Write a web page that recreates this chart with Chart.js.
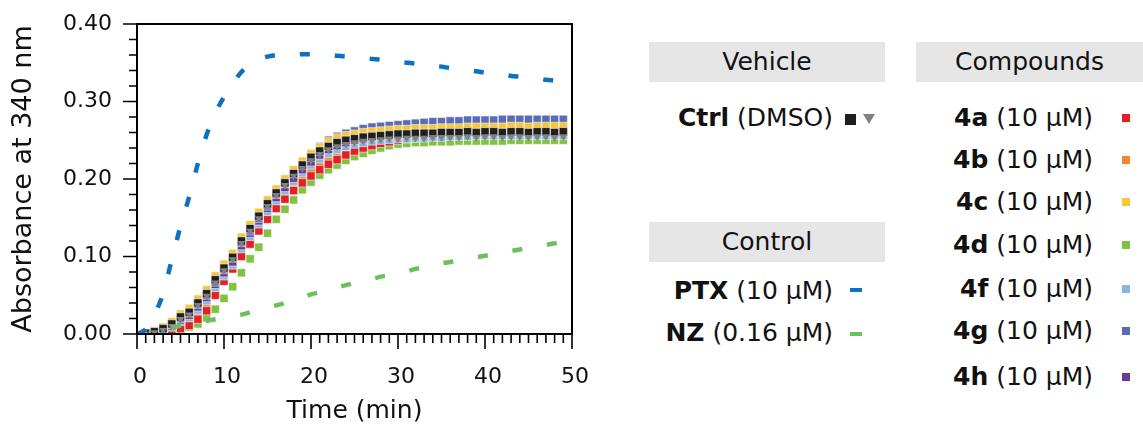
<!DOCTYPE html>
<html>
<head>
<meta charset="utf-8">
<script src="https://cdn.jsdelivr.net/npm/chart.js@4.4.1/dist/chart.umd.min.js"></script>
<style>
    body { margin: 0; background: #ffffff; width: 1143px; height: 432px; overflow: hidden; position: relative; font-family: "DejaVu Sans", sans-serif; color: #111; }
    #chartBox { position: absolute; left: 0; top: 0; width: 600px; height: 432px; }
    .head { position: absolute; top: 42px; height: 40px; line-height: 40px; background: #e6e6e6; text-align: center; font-size: 25px; }
    .row { position: absolute; font-size: 25px; line-height: 30px; white-space: nowrap; text-align: right; }
    .row b { font-weight: bold; }
    .mk { position: absolute; }
</style>
</head>
<body>
<div id="chartBox"><canvas id="turbidityChart"></canvas></div>
<div id="legend"></div>

<script>
const timePoints = [1, 2, 3, 4, 5, 6, 7, 8, 9, 10, 11, 12, 13, 14, 15, 16, 17, 18, 19, 20,
    21, 22, 23, 24, 25, 26, 27, 28, 29, 30, 31, 32, 33, 34, 35, 36, 37, 38, 39, 40,
    41, 42, 43, 44, 45, 46, 47, 48, 49];
const lineTimes = [0, 1, 2, 3, 4, 5, 6, 7, 8, 9, 10, 11, 12, 13, 14, 15, 16, 17, 18, 19, 20,
    21, 22, 23, 24, 25, 26, 27, 28, 29, 30, 31, 32, 33, 34, 35, 36, 37, 38, 39, 40,
    41, 42, 43, 44, 45, 46, 47, 48, 49, 50];

const ctrlSquare = [0.001, 0.003, 0.007, 0.013, 0.022, 0.028, 0.040, 0.052, 0.070, 0.085,
    0.099, 0.120, 0.136, 0.152, 0.168, 0.182, 0.195, 0.207, 0.218, 0.228,
    0.236, 0.242, 0.247, 0.250, 0.252, 0.254, 0.255, 0.256, 0.257, 0.258,
    0.258, 0.259, 0.259, 0.259, 0.260, 0.260, 0.260, 0.261, 0.260, 0.261,
    0.261, 0.260, 0.261, 0.261, 0.260, 0.261, 0.261, 0.260, 0.261];
const ctrlTriangle = [0.000, 0.002, 0.005, 0.010, 0.019, 0.025, 0.037, 0.049, 0.066, 0.082,
    0.096, 0.117, 0.133, 0.149, 0.165, 0.179, 0.192, 0.204, 0.214, 0.224,
    0.232, 0.238, 0.242, 0.245, 0.247, 0.249, 0.250, 0.251, 0.252, 0.252,
    0.253, 0.253, 0.253, 0.254, 0.254, 0.254, 0.254, 0.255, 0.254, 0.255,
    0.255, 0.254, 0.255, 0.255, 0.254, 0.255, 0.255, 0.254, 0.255];
const cmpd4a = [0.000, 0.001, 0.002, 0.004, 0.007, 0.011, 0.019, 0.030, 0.050, 0.068,
    0.084, 0.100, 0.116, 0.133, 0.148, 0.162, 0.174, 0.185, 0.195, 0.204,
    0.212, 0.219, 0.225, 0.231, 0.236, 0.240, 0.243, 0.246, 0.248, 0.250,
    0.252, 0.253, 0.254, 0.255, 0.256, 0.256, 0.257, 0.257, 0.257, 0.258,
    0.258, 0.258, 0.258, 0.258, 0.258, 0.258, 0.258, 0.258, 0.258];
const cmpd4b = [0.000, 0.001, 0.003, 0.006, 0.010, 0.015, 0.024, 0.036, 0.054, 0.072,
    0.088, 0.104, 0.120, 0.137, 0.152, 0.166, 0.178, 0.190, 0.200, 0.209,
    0.217, 0.224, 0.230, 0.236, 0.241, 0.245, 0.248, 0.250, 0.252, 0.253,
    0.254, 0.255, 0.256, 0.256, 0.257, 0.257, 0.258, 0.258, 0.258, 0.259,
    0.259, 0.259, 0.259, 0.259, 0.259, 0.259, 0.259, 0.259, 0.259];
const cmpd4c = [0.001, 0.004, 0.009, 0.016, 0.026, 0.033, 0.045, 0.057, 0.075, 0.090,
    0.104, 0.125, 0.141, 0.157, 0.173, 0.187, 0.200, 0.212, 0.223, 0.233,
    0.241, 0.248, 0.253, 0.256, 0.258, 0.260, 0.261, 0.262, 0.263, 0.264,
    0.264, 0.265, 0.265, 0.265, 0.266, 0.266, 0.266, 0.267, 0.267, 0.267,
    0.267, 0.267, 0.268, 0.268, 0.267, 0.268, 0.268, 0.268, 0.268];
const cmpd4d = [0.000, 0.000, 0.001, 0.003, 0.006, 0.009, 0.013, 0.021, 0.032, 0.046,
    0.061, 0.079, 0.097, 0.112, 0.130, 0.148, 0.161, 0.173, 0.186, 0.196,
    0.205, 0.212, 0.218, 0.224, 0.229, 0.233, 0.237, 0.240, 0.243, 0.245,
    0.246, 0.247, 0.247, 0.248, 0.248, 0.248, 0.249, 0.249, 0.249, 0.249,
    0.249, 0.249, 0.250, 0.250, 0.250, 0.250, 0.250, 0.250, 0.250];
const cmpd4f = [0.000, 0.002, 0.004, 0.009, 0.016, 0.021, 0.031, 0.043, 0.060, 0.075,
    0.089, 0.110, 0.126, 0.142, 0.158, 0.172, 0.185, 0.197, 0.208, 0.218,
    0.226, 0.233, 0.238, 0.242, 0.245, 0.247, 0.249, 0.250, 0.251, 0.252,
    0.252, 0.253, 0.253, 0.254, 0.254, 0.255, 0.255, 0.255, 0.256, 0.256,
    0.256, 0.256, 0.256, 0.256, 0.256, 0.256, 0.256, 0.256, 0.256];
const cmpd4g = [0.001, 0.003, 0.006, 0.012, 0.020, 0.027, 0.038, 0.050, 0.067, 0.083,
    0.098, 0.118, 0.133, 0.149, 0.165, 0.180, 0.194, 0.208, 0.220, 0.232,
    0.242, 0.250, 0.255, 0.259, 0.262, 0.265, 0.267, 0.268, 0.269, 0.270,
    0.271, 0.272, 0.273, 0.274, 0.274, 0.275, 0.275, 0.276, 0.276, 0.276,
    0.276, 0.277, 0.277, 0.277, 0.277, 0.277, 0.277, 0.277, 0.277];
const cmpd4h = [0.000, 0.002, 0.005, 0.010, 0.018, 0.024, 0.035, 0.047, 0.064, 0.079,
    0.093, 0.114, 0.130, 0.146, 0.162, 0.176, 0.189, 0.201, 0.212, 0.222,
    0.231, 0.238, 0.243, 0.247, 0.250, 0.252, 0.254, 0.255, 0.256, 0.257,
    0.258, 0.259, 0.260, 0.260, 0.261, 0.261, 0.261, 0.262, 0.262, 0.262,
    0.262, 0.262, 0.263, 0.263, 0.262, 0.263, 0.263, 0.263, 0.263];

const ptxValues = [0.000, 0.006, 0.025, 0.052, 0.096, 0.139, 0.177, 0.220, 0.257, 0.285,
    0.306, 0.323, 0.338, 0.348, 0.354, 0.358, 0.360, 0.361, 0.361, 0.361,
    0.361, 0.360, 0.360, 0.359, 0.358, 0.357, 0.356, 0.355, 0.354, 0.353,
    0.351, 0.350, 0.349, 0.348, 0.346, 0.345, 0.343, 0.342, 0.340, 0.339,
    0.337, 0.336, 0.335, 0.333, 0.332, 0.331, 0.330, 0.328, 0.327, 0.326,
    0.325];
const nzValues = [0.000, 0.002, 0.004, 0.006, 0.008, 0.011, 0.013, 0.015, 0.017, 0.019,
    0.021, 0.023, 0.025, 0.028, 0.031, 0.034, 0.037, 0.040, 0.044, 0.047,
    0.051, 0.054, 0.057, 0.060, 0.063, 0.066, 0.069, 0.071, 0.074, 0.076,
    0.079, 0.081, 0.084, 0.086, 0.088, 0.091, 0.093, 0.095, 0.097, 0.099,
    0.101, 0.103, 0.105, 0.107, 0.109, 0.111, 0.113, 0.115, 0.117, 0.119,
    0.121];

const xTickValues = [0, 10, 20, 30, 40, 50];
const yTickValues = [0, 0.1, 0.2, 0.3, 0.4];

const compoundNames = ["4a", "4b", "4c", "4d", "4f", "4g", "4h"];
const compoundColors = ["#e41f26", "#f08530", "#f6c63c", "#80c241", "#87b7da", "#5a6cb5", "#6a3a97"];

function toPoints(xs, ys) {
    return ys.map((v, i) => ({ x: xs[i], y: v }));
}

function squareSet(label, values, color) {
    return {
        label,
        data: toPoints(timePoints, values),
        showLine: false,
        pointStyle: "rect",
        pointRadius: 5.8,
        pointBackgroundColor: color,
        pointBorderColor: "rgba(255,255,255,0.55)",
        pointBorderWidth: 1
    };
}

function dashSet(label, values, color) {
    return {
        label,
        data: toPoints(lineTimes, values),
        borderColor: color,
        borderWidth: 4.5,
        borderDash: [10, 25],
        borderCapStyle: "butt",
        cubicInterpolationMode: "monotone",
        pointRadius: 0,
        fill: false
    };
}

// frame plus major/minor tick marks, placed through the scales
const axisFrame = {
    id: "axisFrame",
    afterDatasetsDraw(chart) {
        const { ctx, chartArea: a, scales: { x, y } } = chart;
        ctx.save();
        ctx.strokeStyle = "#000";
        ctx.lineWidth = 1.6;
        ctx.beginPath();
        for (let m = 0; m <= 50; m++) {
            const px = x.getPixelForValue(m);
            const len = m % 10 === 0 ? 15 : 9;
            ctx.moveTo(px, a.bottom);
            ctx.lineTo(px, a.bottom + len);
        }
        for (let i = 0; i <= 20; i++) {
            const py = y.getPixelForValue(i / 50);
            const len = i % 5 === 0 ? 14 : 8;
            ctx.moveTo(a.left, py);
            ctx.lineTo(a.left - len, py);
        }
        ctx.stroke();
        ctx.lineWidth = 2;
        ctx.strokeRect(a.left, a.top, a.right - a.left, a.bottom - a.top);
        ctx.restore();
    }
};

Chart.defaults.font.family = "'DejaVu Sans', sans-serif";
Chart.defaults.color = "#111";

const datasets = [
    dashSet("PTX", ptxValues, "#0b71c0"),
    dashSet("NZ", nzValues, "#6cc05c"),
    {
        label: "Ctrl 2",
        data: toPoints(timePoints, ctrlTriangle),
        showLine: false,
        pointStyle: "triangle",
        rotation: 180,
        pointRadius: 4.5,
        pointBackgroundColor: "#808080",
        pointBorderColor: "#808080",
        pointBorderWidth: 0
    },
    squareSet("Ctrl", ctrlSquare, "#1f1f1f"),
    squareSet("4c", cmpd4c, compoundColors[2]),
    squareSet("4g", cmpd4g, compoundColors[5]),
    squareSet("4h", cmpd4h, compoundColors[6]),
    squareSet("4f", cmpd4f, compoundColors[4]),
    squareSet("4a", cmpd4a, compoundColors[0]),
    squareSet("4b", cmpd4b, compoundColors[1]),
    squareSet("4d", cmpd4d, compoundColors[3])
];
datasets.forEach((d, i) => { d.order = i; });

new Chart(document.getElementById("turbidityChart"), {
    type: "line",
    data: { datasets },
    options: {
        responsive: true,
        maintainAspectRatio: false,
        animation: false,
        layout: { padding: { left: 0, top: 24, right: 28, bottom: 0 } },
        plugins: { legend: { display: false }, tooltip: { enabled: false } },
        scales: {
            x: {
                type: "linear",
                min: 0,
                max: 50,
                grid: { display: false, drawTicks: false },
                border: { display: false },
                afterBuildTicks: (s) => { s.ticks = xTickValues.map((v) => ({ value: v })); },
                afterFit: (s) => {
                    s.height = 98;
                    s.paddingLeft = 0;
                    s.paddingRight = 0;
                },
                ticks: { font: { size: 22 }, padding: 30, labelOffset: 3, maxRotation: 0, color: "#111" },
                title: { display: true, text: "Time (min)", font: { size: 25 }, padding: { top: 0, bottom: 6 }, color: "#111" }
            },
            y: {
                min: 0,
                max: 0.4,
                grid: { display: false, drawTicks: false },
                border: { display: false },
                afterBuildTicks: (s) => { s.ticks = yTickValues.map((v) => ({ value: v })); },
                afterFit: (s) => {
                    s.width = 137;
                    s.paddingTop = 0;
                    s.paddingBottom = 0;
                },
                ticks: { font: { size: 22 }, padding: 25, color: "#111", callback: (v) => Number(v).toFixed(2) },
                title: { display: true, text: "Absorbance at 340 nm", font: { size: 27 }, padding: { top: 8, bottom: 0 }, color: "#111" }
            }
        }
    },
    plugins: [axisFrame]
});

// legend panel
const legend = document.getElementById("legend");
function addHead(text, left, top, width) {
    const el = document.createElement("div");
    el.className = "head";
    el.style.left = left + "px";
    el.style.top = top + "px";
    el.style.width = width + "px";
    el.textContent = text;
    legend.appendChild(el);
}
function addRow(name, note, rightEdge, centerY) {
    const el = document.createElement("div");
    el.className = "row";
    el.style.right = (1143 - rightEdge) + "px";
    el.style.top = (centerY - 15) + "px";
    const b = document.createElement("b");
    b.textContent = name;
    el.appendChild(b);
    el.appendChild(document.createTextNode(" " + note));
    legend.appendChild(el);
}
function addMark(cx, cy, w, h, color) {
    const el = document.createElement("div");
    el.className = "mk";
    el.style.left = (cx - w / 2) + "px";
    el.style.top = (cy - h / 2) + "px";
    el.style.width = w + "px";
    el.style.height = h + "px";
    el.style.background = color;
    legend.appendChild(el);
}

addHead("Vehicle", 649, 42, 236);
addRow("Ctrl", "(DMSO)", 833, 118);
addMark(850, 119, 11, 11, "#1f1f1f");
const tri = document.createElement("div");
tri.className = "mk";
tri.style.left = "863px";
tri.style.top = "114px";
tri.style.width = "0";
tri.style.height = "0";
tri.style.borderLeft = "6px solid transparent";
tri.style.borderRight = "6px solid transparent";
tri.style.borderTop = "10px solid #808080";
legend.appendChild(tri);

addHead("Control", 649, 222, 236);
addRow("PTX", "(10 \u00b5M)", 833, 291);
addMark(856, 290, 12, 4.5, "#0b71c0");
addRow("NZ", "(0.16 \u00b5M)", 833, 333);
addMark(856, 334, 12, 4.5, "#6cc05c");

addHead("Compounds", 916, 42, 227);
const compoundRowsY = [118, 160, 202, 245, 289, 331, 377];
compoundNames.forEach((name, i) => {
    addRow(name, "(10 \u00b5M)", 1093, compoundRowsY[i]);
    addMark(1126, compoundRowsY[i], 8, 8, compoundColors[i]);
});
</script>
</body>
</html>
